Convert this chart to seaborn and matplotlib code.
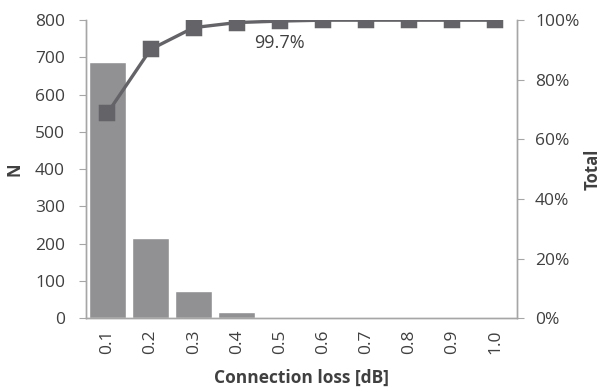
import matplotlib
matplotlib.use("Agg")
import matplotlib.pyplot as plt
import seaborn as sns
import pandas as pd
from matplotlib.ticker import PercentFormatter

# data
loss_bins = ["0.1", "0.2", "0.3", "0.4", "0.5", "0.6", "0.7", "0.8", "0.9", "1.0"]
counts = [687, 215, 72, 17, 3, 1, 0, 0, 0, 0]
cum_share = [68.8, 90.2, 97.5, 99.2, 99.7, 100, 100, 100, 100, 100]

df = pd.DataFrame({"loss": loss_bins, "N": counts, "Total": cum_share})

sns.set_style("white")
plt.rcParams["font.family"] = ["Open Sans", "DejaVu Sans"]
text_col = "#404040"
axis_col = "#a6a6a6"

fig = plt.figure(figsize=(6.09, 3.88), dpi=100)
ax = fig.add_axes([0.141, 0.180, 0.708, 0.768])

sns.barplot(data=df, x="loss", y="N", color="#919193", saturation=1,
            width=0.86, ax=ax)
ax.set_ylim(0, 800)
ax.set_xlim(-0.5, 9.5)
ax.set_yticks(range(0, 801, 100))
ax.set_xlabel("Connection loss [dB]", fontsize=12.5, fontweight="bold",
              color=text_col, labelpad=11)
ax.set_ylabel("N", fontsize=12, fontweight="bold", color=text_col, labelpad=8)
ax.tick_params(axis="x", rotation=90, length=0, labelsize=12.5,
               labelcolor=text_col, pad=8)
ax.tick_params(axis="y", length=5, color=axis_col, labelsize=12.5,
               labelcolor=text_col, left=True, pad=10)

ax2 = ax.twinx()
sns.pointplot(data=df, x="loss", y="Total", color="#646468", markers="s",
              linestyles="-", markersize=9.5, linewidth=2.4, ax=ax2)
ax2.set_ylim(0, 100)
ax2.set_xlim(-0.5, 9.5)
ax2.set_yticks(range(0, 101, 20))
ax2.yaxis.set_major_formatter(PercentFormatter(decimals=0))
ax2.set_ylabel("Total", fontsize=12, fontweight="bold", color=text_col,
               labelpad=3)
ax2.tick_params(axis="y", length=5, color=axis_col, labelsize=12.5,
                labelcolor=text_col, right=True, pad=8)
ax2.annotate("99.7%", xy=(4, cum_share[4]), xytext=(0, -9),
             textcoords="offset points", ha="center", va="top",
             fontsize=13, color=text_col)

for a in (ax, ax2):
    a.spines["top"].set_visible(False)
    for side in ("left", "right", "bottom"):
        a.spines[side].set_color(axis_col)
        a.spines[side].set_linewidth(1)

fig.savefig("out.png", dpi=100)
